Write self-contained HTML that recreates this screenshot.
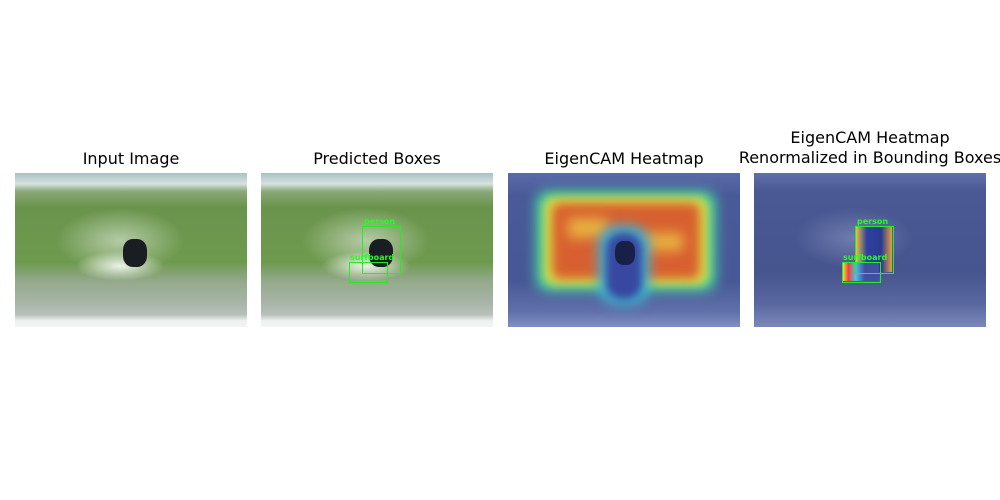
<!DOCTYPE html>
<html><head><meta charset="utf-8"><style>
body{margin:0;background:#fff;width:1000px;height:500px;position:relative;overflow:hidden;font-family:"DejaVu Sans","Liberation Sans",sans-serif}
.t{position:absolute;width:300px;text-align:center;font-size:16px;color:#000;line-height:20px}
.p{position:absolute;top:173px;width:232px;height:154px;overflow:hidden}
.photo{background:linear-gradient(#a8c2c6 0%,#d6e2e0 7%,#8aa878 12%,#6a944c 22%,#6e9a4e 58%,#93a98a 70%,#a9b5aa 85%,#b8c0ba 92%,#eef2f2 96%,#f4f4f4 100%)}
.ab{position:absolute}
.box{position:absolute;border:1px solid #22ee22}
.lb{position:absolute;color:#22ff22;font-size:8px;font-weight:bold;line-height:8px}
</style></head><body>
<div class="t" style="left:-19px;top:149px">Input Image</div>
<div class="t" style="left:227px;top:149px">Predicted Boxes</div>
<div class="t" style="left:474px;top:149px">EigenCAM Heatmap</div>
<div class="t" style="left:720px;top:128px;width:300px">EigenCAM Heatmap<br>Renormalized in Bounding Boxes</div>

<div class="p photo" style="left:15px">
 <div class="ab" style="left:40px;top:35px;width:130px;height:65px;background:radial-gradient(ellipse,rgba(240,245,240,.55),rgba(240,245,240,0) 70%)"></div>
 <div class="ab" style="left:60px;top:78px;width:90px;height:30px;background:radial-gradient(ellipse,rgba(255,255,255,.85),rgba(255,255,255,0) 70%)"></div>
 <div class="ab" style="left:108px;top:66px;width:24px;height:28px;border-radius:40%;background:#1a1e22"></div>
</div>
<div class="p photo" style="left:261px">
 <div class="ab" style="left:40px;top:35px;width:130px;height:65px;background:radial-gradient(ellipse,rgba(240,245,240,.55),rgba(240,245,240,0) 70%)"></div>
 <div class="ab" style="left:60px;top:78px;width:90px;height:30px;background:radial-gradient(ellipse,rgba(255,255,255,.85),rgba(255,255,255,0) 70%)"></div>
 <div class="ab" style="left:108px;top:66px;width:24px;height:28px;border-radius:40%;background:#1a1e22"></div>
 <div class="box" style="left:101px;top:53px;width:37px;height:46px"></div>
 <div class="lb" style="left:103px;top:45px">person</div>
 <div class="box" style="left:88px;top:89px;width:37px;height:19px"></div>
 <div class="lb" style="left:89px;top:81px">surfboard</div>
</div>
<div class="p" style="left:508px;background:linear-gradient(#5a6aa8 0%,#4a5a98 15%,#485896 70%,#6070aa 90%,#8090c4 100%)">
 <div class="ab" style="left:28px;top:18px;width:180px;height:100px;background:#40d0a0;filter:blur(6px);border-radius:12px"></div>
 <div class="ab" style="left:36px;top:24px;width:164px;height:88px;background:#e0e040;filter:blur(5px);border-radius:10px"></div>
 <div class="ab" style="left:44px;top:30px;width:148px;height:76px;background:#d86030;filter:blur(5px);border-radius:8px"></div>
 <div class="ab" style="left:60px;top:45px;width:40px;height:20px;background:#e8b040;filter:blur(6px)"></div>
 <div class="ab" style="left:135px;top:60px;width:40px;height:18px;background:#e8b040;filter:blur(6px)"></div>
 <div class="ab" style="left:90px;top:52px;width:52px;height:80px;background:#40b0d0;filter:blur(6px);border-radius:20px"></div>
 <div class="ab" style="left:98px;top:60px;width:36px;height:66px;background:#3848a0;filter:blur(4px);border-radius:16px"></div>
 <div class="ab" style="left:107px;top:68px;width:20px;height:24px;border-radius:40%;background:#182048"></div>
</div>
<div class="p" style="left:754px;background:linear-gradient(#6070a8 0%,#4a5894 12%,#46558e 65%,#5a68a0 85%,#7a88bc 100%)">
 <div class="ab" style="left:40px;top:35px;width:120px;height:60px;background:radial-gradient(ellipse,rgba(160,170,210,.45),rgba(160,170,210,0) 70%)"></div>
 <div class="ab" style="left:102px;top:54px;width:36px;height:45px;background:linear-gradient(90deg,#e8c040,#3040a0 30%,#2a3a90 70%,#e8a040)"></div>
 <div class="ab" style="left:89px;top:90px;width:36px;height:18px;background:linear-gradient(90deg,#e8e040,#f04040 15%,#50c0e0 35%,#4050a0 60%)"></div>
 <div class="box" style="left:101px;top:53px;width:37px;height:46px"></div>
 <div class="lb" style="left:103px;top:45px">person</div>
 <div class="box" style="left:88px;top:89px;width:37px;height:19px"></div>
 <div class="lb" style="left:89px;top:81px">surfboard</div>
</div>
</body></html>
